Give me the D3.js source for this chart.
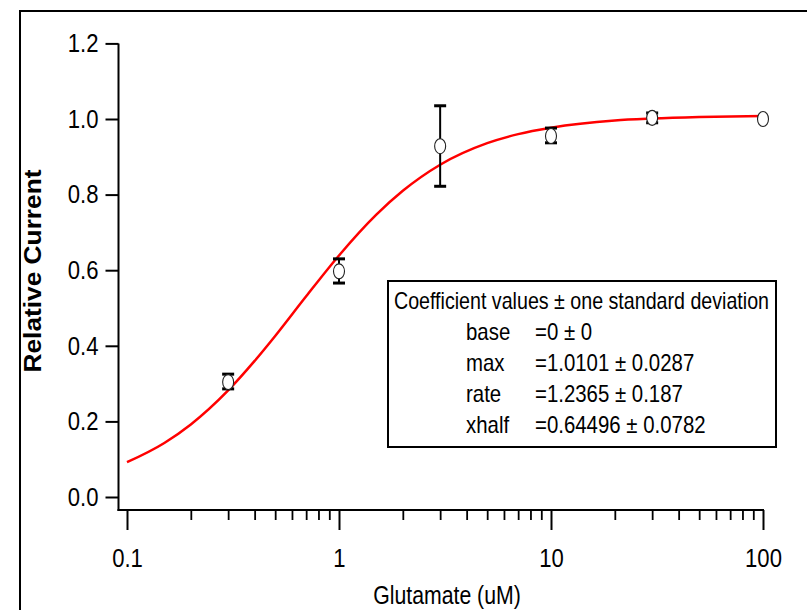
<!DOCTYPE html>
<html>
<head>
<meta charset="utf-8">
<script src="https://cdn.jsdelivr.net/npm/d3@7"></script>
<style>
  html, body { margin: 0; padding: 0; background: #fff; }
  svg { display: block; }
  text { font-family: "Liberation Sans", Arial, sans-serif; fill: #000; }
</style>
</head>
<body>
<svg id="chart" width="807" height="610"></svg>
<script>
// ---- data ----
const concentrations = [0.3, 1, 3, 10, 30, 100];           // Glutamate (uM)
const relCurrent     = [0.304, 0.597, 0.928, 0.955, 1.003, 1.0];
const errLow         = [0.286, 0.566, 0.822, 0.937, 0.990, 1.0];
const errHigh        = [0.325, 0.630, 1.035, 0.976, 1.016, 1.0];

// fitted curve
const fitX = [0.1, 0.15, 0.2, 0.3, 0.4, 0.5, 0.7, 1, 1.5, 2, 3, 5, 7, 10, 20, 30, 50, 100];
const fitY = [0.092, 0.143, 0.192, 0.282, 0.360, 0.426, 0.531, 0.639, 0.747, 0.810, 0.879, 0.936, 0.960, 0.977, 0.996, 1.001, 1.005, 1.008];

const yTicks = [0.0, 0.2, 0.4, 0.6, 0.8, 1.0, 1.2];
const xMajorTicks = [0.1, 1, 10, 100];
const xMinorTicks = [0.2,0.3,0.4,0.5,0.6,0.7,0.8,0.9, 2,3,4,5,6,7,8,9, 20,30,40,50,60,70,80,90];

const xTitle = "Glutamate (uM)";
const yTitle = "Relative Current";
const legendHeader = "Coefficient values \u00B1 one standard deviation";
const coefNames  = ["base", "max", "rate", "xhalf"];
const coefValues = ["=0 \u00B1 0", "=1.0101 \u00B1 0.0287", "=1.2365 \u00B1 0.187", "=0.64496 \u00B1 0.0782"];

// ---- drawing ----
const svg = d3.select("#chart");
const NARROW = 0.85;   // horizontal condensing of the text (reference uses a narrow face)

// outer frame (runs off the right and bottom edges)
svg.append("path")
  .attr("d", "M20,610 L20,11 L807,11")
  .attr("fill", "none").attr("stroke", "#000").attr("stroke-width", 2);

const x = d3.scaleLog().domain([0.1, 100]).range([127, 763]);
const y = d3.scaleLinear().domain([0, 1.2]).range([497, 43.4]);

const axisX0 = 118.5, axisY0 = 510;

// Y axis
const yAxis = d3.axisLeft(y).tickValues(yTicks).tickSize(13).tickPadding(7)
  .tickFormat(d3.format(".1f"));
const gy = svg.append("g").attr("transform", `translate(${axisX0},0)`).call(yAxis);
gy.select(".domain").remove();
gy.selectAll(".tick line").attr("stroke", "#000").attr("stroke-width", 2);
gy.selectAll(".tick text").attr("font-size", 26).attr("class", "narrow").style("font-family", null);

// X axis major
const xAxis = d3.axisBottom(x).tickValues(xMajorTicks).tickSize(20).tickPadding(19)
  .tickFormat(d => d3.format("~g")(d));
const gx = svg.append("g").attr("transform", `translate(0,${axisY0})`).call(xAxis);
gx.select(".domain").remove();
gx.selectAll(".tick line").attr("stroke", "#000").attr("stroke-width", 2);
gx.selectAll(".tick text").attr("font-size", 26).attr("class", "narrow").style("font-family", null);

// X axis minor
const xMinor = d3.axisBottom(x).tickValues(xMinorTicks).tickSize(10).tickFormat("");
const gxm = svg.append("g").attr("transform", `translate(0,${axisY0})`).call(xMinor);
gxm.select(".domain").remove();
gxm.selectAll(".tick line").attr("stroke", "#000").attr("stroke-width", 1.8);

// axis lines
svg.append("line").attr("x1", axisX0).attr("x2", axisX0).attr("y1", y(1.2)).attr("y2", axisY0 + 1)
  .attr("stroke", "#000").attr("stroke-width", 2);
svg.append("line").attr("x1", axisX0 - 1).attr("x2", x(100) + 1).attr("y1", axisY0).attr("y2", axisY0)
  .attr("stroke", "#000").attr("stroke-width", 2);

// axis titles
svg.append("text").attr("class", "narrow").attr("x", 447).attr("y", 604).attr("text-anchor", "middle")
  .attr("font-size", 25).text(xTitle);
svg.append("text").attr("transform", "translate(41,271) rotate(-90)").attr("text-anchor", "middle")
  .attr("font-size", 24).attr("font-weight", "bold")
  .attr("textLength", 203).attr("lengthAdjust", "spacingAndGlyphs").text(yTitle);

// fit curve
const fitData = fitX.map((v, i) => [v, fitY[i]]);
svg.append("path").datum(fitData)
  .attr("fill", "none").attr("stroke", "#ff0000").attr("stroke-width", 2.5)
  .attr("d", d3.line().x(d => x(d[0])).y(d => y(d[1])).curve(d3.curveMonotoneX));

// error bars + markers
const pts = concentrations.map((c, i) => ({ c, v: relCurrent[i], lo: errLow[i], hi: errHigh[i] }));
const eb = svg.append("g").attr("stroke", "#000");
pts.filter(d => d.hi - d.lo > 0).forEach(d => {
  const cx = x(d.c);
  eb.append("line").attr("x1", cx).attr("x2", cx).attr("y1", y(d.hi)).attr("y2", y(d.lo)).attr("stroke-width", 2);
  eb.append("line").attr("x1", cx - 6).attr("x2", cx + 6).attr("y1", y(d.hi)).attr("y2", y(d.hi)).attr("stroke-width", 3);
  eb.append("line").attr("x1", cx - 6).attr("x2", cx + 6).attr("y1", y(d.lo)).attr("y2", y(d.lo)).attr("stroke-width", 3);
});
svg.append("g").selectAll("ellipse").data(pts).join("ellipse")
  .attr("cx", d => x(d.c)).attr("cy", d => y(d.v))
  .attr("rx", 5.5).attr("ry", 7.5)
  .attr("fill", "#fff").attr("stroke", "#222").attr("stroke-width", 1.1);

// legend / annotation box
const lg = svg.append("g");
lg.append("rect").attr("x", 388).attr("y", 281).attr("width", 388).attr("height", 166)
  .attr("fill", "#fff").attr("stroke", "#000").attr("stroke-width", 2);
lg.append("text").attr("x", 394).attr("y", 309).attr("font-size", 24)
  .attr("textLength", 375).attr("lengthAdjust", "spacingAndGlyphs").text(legendHeader);
coefNames.forEach((n, i) => {
  const by = 340 + i * 31;
  lg.append("text").attr("class", "narrow").attr("x", 466).attr("y", by).attr("font-size", 24).text(n);
  lg.append("text").attr("class", "narrow").attr("x", 535).attr("y", by).attr("font-size", 24).text(coefValues[i]);
});

// condense the texts horizontally
svg.selectAll("text.narrow").each(function () {
  const w = this.getComputedTextLength();
  d3.select(this).attr("textLength", w * NARROW).attr("lengthAdjust", "spacingAndGlyphs");
});
</script>
</body>
</html>
